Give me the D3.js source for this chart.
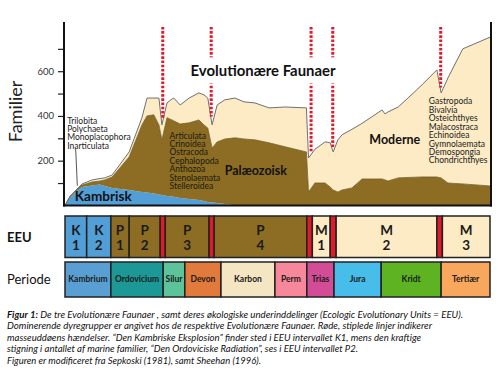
<!DOCTYPE html>
<html><head><meta charset="utf-8">
<script src="https://cdn.jsdelivr.net/npm/d3@7/dist/d3.min.js"></script>
<style>body{margin:0;background:#fff}svg{display:block}</style>
</head><body>
<svg id="c" width="500" height="383"></svg>
<script>
// relative geological time (0 = start of Cambrian, 100 = today)
const time      = [0,1.2,4.0,6.4,8.2,9.4,11.1,15.1,18.1,19.3,20.9,22.1,22.8,24.0,25.2,25.6,27.1,29.2,31.5,32.7,33.6,34.6,35.8,37.6,40.0,42.1,44.7,48.0,51.8,56.8,57.3,58.8,61.2,62.4,63.1,64.2,65.2,67.5,69.9,72.2,74.6,75.3,76.0,78.4,80.7,84.0,87.5,88.5,90.1,93.6,100];
const cambrian  = [0,38,82,89,93,87,78,69,60,58,53,49,46,42,40,39,33,29,24,20,15,13,11,6,0,0,0,0,0,0,0,0,0,0,0,0,0,0,0,0,0,0,0,0,0,0,0,0,0,0,0];
const paleozoic = [0,2,9,16,16,27,49,148,300,342,352,311,247,350,342,339,331,340,358,340,331,244,273,291,302,297,293,280,262,239,60,100,100,82,69,60,69,78,118,118,118,114,109,123,125,127,127,123,100,96,87];
const modern    = [0,2,5,9,11,9,9,22,32,80,75,120,67,66,94,102,85,111,121,134,134,103,165,175,178,166,165,156,178,197,152,151,184,198,170,233,247,262,249,278,309,295,309,317,355,412,479,380,470,604,665];

const yTicks  = [100,200,300,400,500,600,700];
const yLabels = [200,400,600];
const extinctions = [23.0, 34.4, 57.9, 63.0, 88.4];

const faunaNames = ["Kambrisk","Palæozoisk","Moderne"];
const groupsCambrian  = ["Trilobita","Polychaeta","Monoplacophora","Inarticulata"];
const groupsPaleozoic = ["Articulata","Crinoidea","Ostracoda","Cephalopoda","Anthozoa","Stenolaemata","Stelleroidea"];
const groupsModern    = ["Gastropoda","Bivalvia","Osteichthyes","Malacostraca","Echinoidea","Gymnolaemata","Demospongia","Chondrichthyes"];

const eeuFauna = ["K","K","P","P","X","P","X","P","X","M","X","M","X","M"];
const eeuNum   = ["1","2","1","2","","3","","4","","1","","2","","3"];
const eeuStart = [0,5.1,10.8,15.1,22.4,23.6,33.9,35.1,56.9,58.2,62.4,63.8,87.5,88.8];
const eeuEnd   = [5.1,10.8,15.1,22.4,23.6,33.9,35.1,56.9,58.2,62.4,63.8,87.5,88.8,100];

const periods      = ["Kambrium","Ordovicium","Silur","Devon","Karbon","Perm","Trias","Jura","Kridt","Tertiær"];
const periodStart  = [0,10.8,23.1,28.2,36.7,49.4,56.9,63.3,74.4,88.5];
const periodEnd    = [10.8,23.1,28.2,36.7,49.4,56.9,63.3,74.4,88.5,100];
const periodColors = ["#5a9fd4","#1c9896","#5cc39b","#e27a3c","#f5e6c3","#f7879a","#d24c96","#47bde9","#5db322","#f9a75c"];

const caption = [
  ["Figur 1:", " De tre Evolutionære Faunaer , samt deres økologiske underinddelinger (Ecologic Evolutionary Units = EEU)."],
  ["", "Dominerende dyregrupper er angivet hos de respektive Evolutionære Faunaer. Røde, stiplede linjer indikerer"],
  ["", "masseuddøens hændelser. “Den Kambriske Eksplosion”  finder sted i EEU intervallet K1, mens den kraftige"],
  ["", "stigning i antallet af marine familier, “Den Ordoviciske Radiation”, ses i EEU intervallet P2."],
  ["", "Figuren er modificeret fra Sepkoski (1981), samt Sheehan (1996)."]
];
const captionWidths = [456, 425, 414, 351, 254];

const C = {blue:"#519fd6", brown:"#8c6d23", cream:"#fcebc4", red:"#e3182a", ink:"#1a1a1a"};
const FONT = "Lato, 'Open Sans', sans-serif";

const svg = d3.select("#c");
const x = d3.scaleLinear().domain([0,100]).range([65,490]);
const y = d3.scaleLinear().domain([0,820]).range([205.4,22]);

// stacked areas
const rows = time.map((t,i)=>({t, cambrian:cambrian[i], paleozoic:paleozoic[i], modern:modern[i]}));
const stack = d3.stack().keys(["cambrian","paleozoic","modern"])(rows);
const fills = [C.blue, C.brown, C.cream];
const area = d3.area().x(d=>x(d.data.t)).y0(d=>y(d[0])).y1(d=>y(d[1]));
svg.append("g").selectAll("path").data(stack).join("path")
  .attr("d", area).attr("fill",(d,i)=>fills[i]);
const line = d3.line().x(d=>x(d.data.t)).y(d=>y(d[1]));
svg.append("path").datum(stack[1]).attr("d",line).attr("fill","none").attr("stroke","#6e5a2a").attr("stroke-width",0.8);
svg.append("path").datum(stack[2]).attr("d",line).attr("fill","none").attr("stroke","#707070").attr("stroke-width",1);

// totals for extinction lines
const totals = stack[2].map(d=>d[1]);
const totalAt = u => { const i = d3.bisectLeft(time,u); const t0=time[i-1], t1=time[i]; const f=(u-t0)/(t1-t0); return totals[i-1]+(totals[i]-totals[i-1])*f; };
svg.append("g").selectAll("line").data(extinctions).join("line")
  .attr("x1",d=>x(d)).attr("x2",d=>x(d)).attr("y1",y(798)).attr("y2",d=>y(totalAt(d))-3)
  .attr("stroke",C.red).attr("stroke-width",3).attr("stroke-dasharray","2.6,1.6");

// axes
const ax = svg.append("g").attr("transform",`translate(${x(0)-1},0)`)
  .call(d3.axisLeft(y).tickValues(yTicks).tickSize(6).tickSizeOuter(0).tickPadding(4).tickFormat(d=>yLabels.includes(d)?d:""));
ax.select(".domain").remove();
ax.selectAll(".tick line").attr("stroke","#222").attr("stroke-width",1.2);
ax.selectAll(".tick text").attr("font-family",FONT).attr("font-size",9.5).attr("fill","#333");
const frame = svg.append("g").attr("stroke","#111").attr("stroke-width",2).attr("fill","none");
frame.append("line").attr("x1",x(0)-1).attr("x2",x(0)-1).attr("y1",y(820)).attr("y2",y(0)+1);
frame.append("line").attr("x1",x(100)+1).attr("x2",x(100)+1).attr("y1",y(820)).attr("y2",y(0)+1);
frame.append("line").attr("x1",x(0)-2).attr("x2",x(100)+2).attr("y1",y(0)).attr("y2",y(0));

svg.append("text").attr("transform",`translate(22,${y(420)}) rotate(-90)`).attr("text-anchor","middle")
  .attr("font-family",FONT).attr("font-size",18).attr("fill","#222").text("Familier");

// title with white backing
const tg = svg.append("g");
tg.append("rect").attr("x",x(30.8)).attr("y",y(662)).attr("width",x(65)-x(30.8)).attr("height",y(545)-y(662)).attr("fill","#fff");
tg.append("text").attr("x",x(46.6)).attr("y",y(580)).attr("text-anchor","middle").attr("font-family",FONT)
  .attr("font-weight","bold").attr("font-size",14.5).attr("fill","#111").attr("textLength",145).attr("lengthAdjust","spacingAndGlyphs").text("Evolutionære Faunaer");

// group lists
function list(arr, u, v0, col){
  const g = svg.append("g").attr("font-family",FONT).attr("font-size",8.5).attr("fill",col);
  g.selectAll("text").data(arr).join("text").attr("x",x(u)).attr("y",(d,i)=>y(v0)+i*8.45).text(d=>d);
}
list(groupsCambrian, 0.5, 366, "#222");
list(groupsPaleozoic, 24.6, 299, "#1a1a10");
list(groupsModern, 85.6, 452, "#222");
svg.append("line").attr("x1",x(2.5)).attr("y1",y(258)).attr("x2",x(2.9)).attr("y2",y(88)).attr("stroke","#555").attr("stroke-width",1);

// fauna names
const fn = [[2.3,20,57],[37.6,135,62],[71.6,275,51]];
svg.append("g").selectAll("text").data(faunaNames).join("text")
  .attr("x",(d,i)=>x(fn[i][0])).attr("y",(d,i)=>y(fn[i][1])).attr("font-family",FONT).attr("font-weight","bold")
  .attr("font-size",13).attr("fill","#111").attr("textLength",(d,i)=>fn[i][2]).attr("lengthAdjust","spacingAndGlyphs").text(d=>d);

// EEU row
const eeuColor = f => f==="K"?C.blue: f==="P"?C.brown: f==="M"?C.cream: C.red;
const eg = svg.append("g");
eg.selectAll("rect").data(eeuFauna).join("rect")
  .attr("x",(d,i)=>x(eeuStart[i])).attr("y",216).attr("width",(d,i)=>x(eeuEnd[i])-x(eeuStart[i])).attr("height",41.5)
  .attr("fill",d=>eeuColor(d)).attr("stroke","#222").attr("stroke-width",1.5);
const el = eg.selectAll("g.l").data(eeuFauna.map((f,i)=>({f,n:eeuNum[i],i})).filter(d=>d.f!=="X")).join("g")
  .attr("font-family",FONT).attr("font-weight","bold").attr("font-size",13.5).attr("fill","#1a1a1a").attr("text-anchor","middle");
el.append("text").attr("x",d=>x((eeuStart[d.i]+eeuEnd[d.i])/2)).attr("y",234.5).text(d=>d.f);
el.append("text").attr("x",d=>x((eeuStart[d.i]+eeuEnd[d.i])/2)).attr("y",249.5).text(d=>d.n);
svg.append("text").attr("x",7).attr("y",241.5).attr("font-family",FONT).attr("font-weight","bold").attr("font-size",13)
  .attr("fill","#111").text("EEU");

// Period row
const pg = svg.append("g");
pg.selectAll("rect").data(periods).join("rect")
  .attr("x",(d,i)=>x(periodStart[i])).attr("y",262).attr("width",(d,i)=>x(periodEnd[i])-x(periodStart[i])).attr("height",35)
  .attr("fill",(d,i)=>periodColors[i]).attr("stroke","#222").attr("stroke-width",1.5);
pg.selectAll("text").data(periods).join("text")
  .attr("x",(d,i)=>x((periodStart[i]+periodEnd[i])/2)).attr("y",282).attr("text-anchor","middle")
  .attr("font-family",FONT).attr("font-weight","bold").attr("font-size",8.5).attr("fill","#1a1a1a").text(d=>d);
svg.append("text").attr("x",7).attr("y",284).attr("font-family",FONT).attr("font-size",13).attr("fill","#111").text("Periode");

// caption
const cg = svg.append("g").attr("font-family",FONT).attr("font-style","italic").attr("font-size",9.4).attr("fill","#111");
caption.forEach((c,i)=>{
  const t = cg.append("text").attr("x",7).attr("y",317.5+i*11.6).attr("textLength",captionWidths[i]).attr("lengthAdjust","spacingAndGlyphs");
  if(c[0]) t.append("tspan").attr("font-weight","bold").text(c[0]);
  t.append("tspan").text(c[1]);
});
</script>
</body></html>
